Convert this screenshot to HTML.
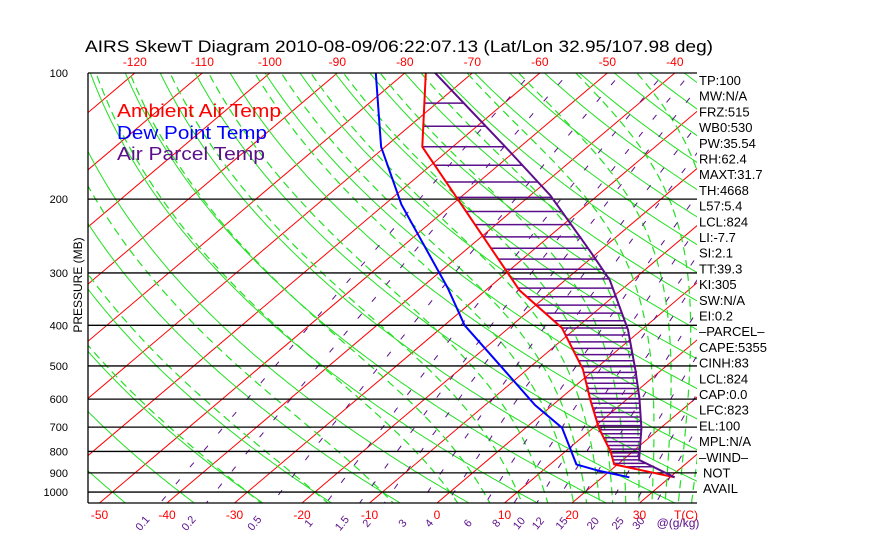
<!DOCTYPE html>
<html><head><meta charset="utf-8">
<style>
html,body{margin:0;padding:0;background:#fff;}
svg{display:block;font-family:"Liberation Sans",sans-serif;}
</style></head>
<body>
<svg id="chart" width="870" height="560" viewBox="0 0 870 560" xmlns="http://www.w3.org/2000/svg">
<defs><clipPath id="plotclip"><rect x="88" y="73" width="609" height="430"/></clipPath></defs>
<text x="85" y="52" font-size="17" textLength="628" lengthAdjust="spacingAndGlyphs" fill="#000">AIRS SkewT Diagram 2010-08-09/06:22:07.13 (Lat/Lon 32.95/107.98 deg)</text>
<g id="grid" clip-path="url(#plotclip)"></g>
<g id="axes"></g>
<text x="117" y="117" font-size="18" fill="#ff0000" textLength="164" lengthAdjust="spacingAndGlyphs">Ambient Air Temp</text>
<text x="117" y="139" font-size="18" fill="#0000ff" textLength="150" lengthAdjust="spacingAndGlyphs">Dew Point Temp</text>
<text x="117" y="160" font-size="18" fill="#5c0f8b" textLength="148" lengthAdjust="spacingAndGlyphs">Air Parcel Temp</text>
<text transform="translate(82,285) rotate(-90)" text-anchor="middle" font-size="12" fill="#000">PRESSURE (MB)</text>
<g id="right" font-size="13" fill="#000"></g>
</svg>
<script>
// ---- data ----
const envP = [100, 150, 330, 406, 509, 600, 704, 800, 859, 922];
const envT = [-76.9, -64.5, -25.0, -12.1, -1.8, 4.5, 10.9, 16.7, 19.5, 30.7];
const dewP = [100, 150, 206, 326, 400, 498, 620, 703, 859, 890, 922];
const dewT = [-84.3, -70.6, -57.5, -36, -27, -14.8, -2.6, 5.4, 13.9, 18.4, 24];
const parP = [100, 150, 196, 265, 312, 410, 511, 596, 704, 838, 922];
const parT = [-75.5, -52.2, -37, -21.6, -13.4, -2, 6.1, 11.6, 17.2, 22.4, 30.7];
const isobars = [200, 300, 400, 500, 600, 700, 800, 900, 1000];
const pLabels = ["100","200","300","400","500","600","700","800","900","1000"];
const tBottom = [-50, -40, -30, -20, -10, 0, 10, 20, 30];
const tTop = [-120, -110, -100, -90, -80, -70, -60, -50, -40];
const mixW = [0.1, 0.2, 0.5, 1, 1.5, 2, 3, 4, 6, 8, 10, 12, 15, 20, 25, 30];
const mixLabels = ["0.1","0.2","0.5","1","1.5","2","3","4","6","8","10","12","15","20","25","30"];
const thetaC = [-60,-50,-40,-30,-20,-10,0,10,20,30,40,50,60,70,80,90,100,110,120,130,140,150,160,170,180,190,200,210,220];
const thetaW = [-30,-20,-10,0,5,10,14,18,20,22,24,26,28,30,32,34,36,38,40];
const rightLabels = ["TP:100","MW:N/A","FRZ:515","WB0:530","PW:35.54","RH:62.4","MAXT:31.7","TH:4668","L57:5.4","LCL:824","LI:-7.7","SI:2.1","TT:39.3","KI:305","SW:N/A","EI:0.2","\u2013PARCEL\u2013","CAPE:5355","CINH:83","LCL:824","CAP:0.0","LFC:823","EL:100","MPL:N/A","\u2013WIND\u2013","NOT","AVAIL"];

// ---- axis functions ----
const Y0=73, YB=503, PB=100*Math.exp((YB-Y0)/182);
function yP(p){return Y0+182*Math.log(p/100);}
function xT(t,p){return 437+6.75*t+1.181*(YB-yP(p));}
const NS="http://www.w3.org/2000/svg";
function mk(tag,attrs,parent){const e=document.createElementNS(NS,tag);for(const k in attrs)e.setAttribute(k,attrs[k]);parent.appendChild(e);return e;}
const grid=document.getElementById('grid'), axes=document.getElementById('axes'), right=document.getElementById('right');
function polyStr(ps,ts){return ps.map((p,i)=>xT(ts[i],p).toFixed(1)+','+yP(p).toFixed(1)).join(' ');}
function pres(){const a=[];for(let p=95;p<=1080;p+=5)a.push(p);return a;}

// isotherms
for(let t=-160;t<=60;t+=10){
  const l=mk('line',{x1:xT(t,PB+20),y1:yP(PB+20),x2:xT(t,90),y2:yP(90),stroke:'#ff0000','stroke-width':1},grid);
  
  
}
// dry adiabats
thetaC.forEach(th=>{
  const ps=pres(), ts=ps.map(p=>(th+273.15)*Math.pow(p/1000,0.286)-273.15);
  const l=mk('polyline',{points:polyStr(ps,ts),fill:'none',stroke:'#22e022','stroke-width':1},grid);
  
  
});
// moist adiabats
function es(T){return 6.112*Math.exp(17.67*T/(T+243.5));}
function gamma(T,p){const Tk=T+273.15,e=es(T),rs=0.622*e/(p-e),L=2.5e6,Rd=287,Cp=1004;
  return (Rd*Tk+L*rs)/(Cp+L*L*rs*0.622/(Rd*Tk*Tk))/p;}
thetaW.forEach(tw=>{
  const ps=[],ts=[];let T=tw;
  for(let p=1000;p<=1080;p+=5){ps.push(p);ts.push(T);T+=gamma(T,p)*5;}
  T=tw;const up=[],ut=[];
  for(let p=1000;p>=95;p-=5){up.push(p);ut.push(T);T-=gamma(T,p)*5;}
  const P=up.reverse().concat(ps.slice(1)),Tt=ut.reverse().concat(ts.slice(1));
  const l=mk('polyline',{points:polyStr(P,Tt),fill:'none',stroke:'#22e022','stroke-width':1.2,'stroke-dasharray':'8 5'},grid);
  
  
});
// mixing ratio lines
function tdW(w,p){const e=w*p/(622+w),g=Math.log(e/6.112);return 243.5*g/(17.67-g);}
mixW.forEach((w,i)=>{
  const ps=pres(),ts=ps.map(p=>tdW(w,p));
  const l=mk('polyline',{points:polyStr(ps,ts),fill:'none',stroke:'#5c0f8b','stroke-width':1,'stroke-dasharray':'6 16'},grid);
  
  
  const x=xT(tdW(w,PB),PB)-18;
  const t=mk('text',{x:x,y:527,'font-size':11,fill:'#5c0f8b','text-anchor':'middle',transform:`rotate(-50 ${x} 523)`},axes);
  t.textContent=mixLabels[i];
  
  
});
// isobars
isobars.forEach(p=>{
  const l=mk('line',{x1:88,x2:697,y1:yP(p),y2:yP(p),stroke:'#000','stroke-width':1.3},grid);
  
  
});
// hatching between env and parcel
function interp(ps,ts,p){for(let i=0;i<ps.length-1;i++){if(p>=ps[i]&&p<=ps[i+1]){const f=Math.log(p/ps[i])/Math.log(ps[i+1]/ps[i]);return ts[i]+f*(ts[i+1]-ts[i]);}}return null;}
for(let p=118;p<=875;p+=16){
  const a=interp(envP,envT,p),b=interp(parP,parT,p);
  if(a===null||b===null||b<=a)continue;
  const l=mk('line',{x1:xT(a,p),x2:xT(b,p),y1:yP(p),y2:yP(p),stroke:'#5c0f8b','stroke-width':1.5},grid);
  
  
}
// profiles
const pe=mk('polyline',{points:polyStr(envP,envT),fill:'none',stroke:'#ff0000','stroke-width':2},grid);


const pd=mk('polyline',{points:polyStr(dewP,dewT),fill:'none',stroke:'#0000ff','stroke-width':2},grid);


const pp=mk('polyline',{points:polyStr(parP,parT),fill:'none',stroke:'#5c0f8b','stroke-width':2},grid);



// frame
const fl=mk('line',{x1:88,x2:88,y1:73,y2:503,stroke:'#000','stroke-width':1.3},axes);


const ft=mk('line',{x1:88,x2:697,y1:73,y2:73,stroke:'#000','stroke-width':1.3},axes);


const fb=mk('line',{x1:88,x2:697,y1:503,y2:503,stroke:'#000','stroke-width':1.3},axes);


// pressure labels
[100].concat(isobars).forEach((p,i)=>{
  const t=mk('text',{x:68,y:yP(p)+4,'font-size':11,'text-anchor':'end',fill:'#000'},axes);
  t.textContent=pLabels[i];
  
  
});
// temperature labels
tBottom.forEach(v=>{
  const t=mk('text',{x:xT(v,PB),y:519,'font-size':12,'text-anchor':'middle',fill:'#ff0000'},axes);
  t.textContent=String(v);
  
  
});
const tc=mk('text',{x:686,y:519,'font-size':12,'text-anchor':'middle',fill:'#ff0000'},axes);
tc.textContent='T(C)';


const wu=mk('text',{x:678,y:527,'font-size':12,'text-anchor':'middle',fill:'#5c0f8b'},axes);
wu.textContent='@(g/kg)';


tTop.forEach(v=>{
  const t=mk('text',{x:xT(v,100),y:66,'font-size':12,'text-anchor':'middle',fill:'#ff0000'},axes);
  t.textContent=String(v);
  
  
});
// right panel
rightLabels.forEach((s,i)=>{
  const t=mk('text',{x:(s==='NOT'||s==='AVAIL')?703:699,y:85+i*15.7},right);
  t.textContent=s;
  
  
});
</script>
</body></html>
